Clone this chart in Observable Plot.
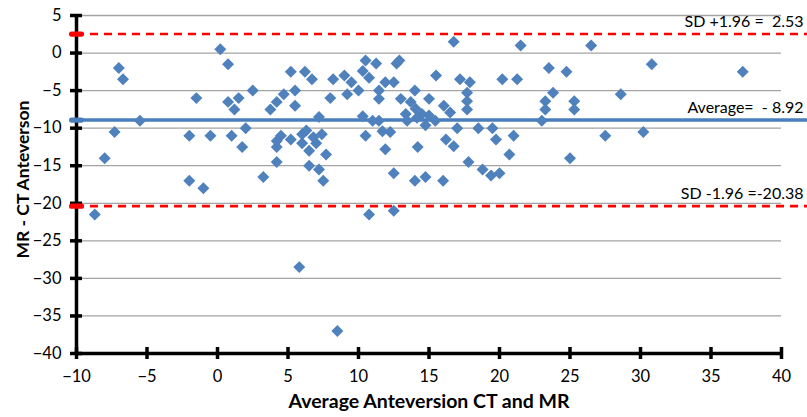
<!DOCTYPE html>
<html>
<head>
<meta charset="utf-8">
<script src="https://cdn.jsdelivr.net/npm/d3@7"></script>
<script src="https://cdn.jsdelivr.net/npm/@observablehq/plot@0.6"></script>
<style>
  html, body { margin: 0; padding: 0; background: #fff; }
  #chart { width: 807px; height: 417px; }
</style>
</head>
<body>
<div id="chart"></div>
<script>
// Average of CT and MR anteversion (x) and MR - CT difference (y)
const avgAnteversion = [
  -8.7, -8.0, -7.3, -7.0, -6.7, -5.5, -2.0, -1.5, -2.0, -1.0, -0.5,
  0.2, 0.75, 0.75, 1.2, 1.5, 1.0, 2.0, 1.75, 2.5, 3.25, 3.75, 4.2, 4.7, 4.2, 4.2, 4.5, 4.2,
  5.2, 5.5, 5.5, 5.2, 6.0, 6.3, 6.0, 6.5, 7.0, 6.8, 7.4, 7.7, 6.5, 7.2, 7.5,
  6.2, 6.7, 7.2, 8.0, 8.2, 9.0, 9.5, 9.2, 10.0, 5.8, 8.5,
  10.3, 10.5, 10.75, 11.25, 11.45, 11.45, 11.9, 12.5, 12.7, 12.9, 10.3, 11.0, 11.45,
  10.5, 11.7, 12.25, 11.9, 12.5, 10.75, 12.5, 13.0, 13.7, 14.0, 14.05, 13.35, 13.45,
  14.15, 14.5, 14.75, 15.0, 15.45, 14.2, 14.0, 14.75, 15.5,
  16.05, 16.5, 16.75, 17.2, 17.9, 17.7, 17.7, 17.7, 17.0, 16.2, 16.75, 16.0, 17.8,
  18.5, 18.8, 19.4, 20.0, 19.5, 19.75, 20.2,
  21.25, 21.5, 21.0, 20.7, 23.5, 24.75, 23.8, 23.25, 23.25, 25.3, 25.3, 23.0, 25.0,
  26.5, 27.5, 28.6, 30.2, 30.8, 37.25, 15.0
];
const diffMRminusCT = [
  -21.5, -14.0, -10.5, -2.0, -3.5, -9.0, -11.0, -6.0, -17.0, -18.0, -11.0,
  0.5, -1.5, -6.5, -7.5, -6.0, -11.0, -10.0, -12.5, -5.0, -16.5, -7.5, -6.5, -5.5, -14.5, -12.5, -11.0, -11.7,
  -2.5, -5.0, -7.0, -11.5, -10.8, -10.3, -12.0, -13.0, -12.0, -11.2, -10.8, -13.5, -15.0, -15.5, -17.0,
  -2.5, -3.5, -8.5, -6.0, -3.5, -3.0, -3.9, -5.5, -5.0, -28.5, -37.0,
  -2.4, -1.0, -3.3, -1.4, -5.0, -6.1, -3.9, -3.9, -1.4, -1.0, -8.4, -9.0, -9.0,
  -11.0, -10.4, -10.5, -12.8, -16.0, -21.5, -21.0, -6.1, -6.5, -5.0, -7.4, -8.1, -9.0,
  -8.6, -8.1, -9.6, -6.1, -9.0, -12.5, -17.0, -16.5, -3.0,
  -7.0, -7.9, 1.5, -3.5, -3.9, -5.3, -6.4, -7.5, -10.0, -11.5, -12.4, -17.0, -14.5,
  -10.0, -15.5, -16.3, -16.0, -10.0, -11.5, -3.5,
  -3.5, 1.0, -11.0, -13.5, -2.0, -2.5, -5.3, -6.4, -7.5, -6.4, -7.5, -9.0, -14.0,
  1.0, -11.0, -5.5, -10.5, -1.5, -2.5, -8.3
];
const meanDiff = -8.92;
const upperLimit = 2.53;
const lowerLimit = -20.38;
const xTicks = [-10, -5, 0, 5, 10, 15, 20, 25, 30, 35, 40];
const yTicks = [5, 0, -5, -10, -15, -20, -25, -30, -35, -40];
const refLabels = ["SD +1.96 =  2.53", "Average=  - 8.92", "SD -1.96 =-20.38"];
const xTitle = "Average Anteversion CT and MR";
const yTitle = "MR - CT Anteverson";

const points = avgAnteversion.map((x, i) => ({x, y: diffMRminusCT[i]}));
const limits = [upperLimit, lowerLimit];
const refs = [upperLimit, meanDiff, lowerLimit].map((y, i) => ({y, label: refLabels[i]}));

const pill = {
  draw(ctx, size) {
    const w = 7.5, h = 2.6;
    ctx.moveTo(-w + h, -h);
    ctx.lineTo(w - h, -h);
    ctx.arc(w - h, 0, h, -Math.PI / 2, Math.PI / 2);
    ctx.lineTo(-w + h, h);
    ctx.arc(-w + h, 0, h, Math.PI / 2, 3 * Math.PI / 2);
    ctx.closePath();
  }
};

const chart = Plot.plot({
  width: 807,
  height: 417,
  marginLeft: 76,
  marginRight: 26,
  marginTop: 15,
  marginBottom: 64,
  style: {fontFamily: "Lato, 'Open Sans', sans-serif", fontSize: "16px", background: "#fff", color: "#000"},
  x: {domain: [-10, 40]},
  y: {domain: [-40, 5]},
  marks: [
    Plot.gridY(yTicks, {stroke: "#a3a3a3", strokeOpacity: 1, strokeWidth: 1.3}),
    Plot.ruleY(limits, {stroke: "#ff0000", strokeWidth: 2.6, strokeDasharray: "8,6", insetRight: -26}),
    Plot.ruleY([meanDiff], {stroke: "#4a7ebb", strokeWidth: 3.5, insetRight: -26}),
    Plot.dot(points, {x: "x", y: "y", symbol: "diamond2", r: 5.4, fill: "#4f81bd", stroke: "none"}),
    Plot.ruleX([-10], {stroke: "#000", strokeWidth: 3.5}),
    Plot.ruleY([-40], {stroke: "#000", strokeWidth: 3.5}),
    Plot.axisY({ticks: yTicks, tickSize: 12, insetLeft: 6, tickPadding: 9, strokeWidth: 3.5, fontSize: 16.5, label: null}),
    Plot.axisX({ticks: xTicks, tickSize: 12, insetBottom: 6, tickPadding: 11, strokeWidth: 3.5, fontSize: 16.5, label: null}),
    Plot.dot(limits, {x: () => -10, y: d => d, symbol: pill, r: 3, fill: "#ff0000", stroke: "none"}),
    Plot.dot([meanDiff], {x: () => -10, y: d => d, symbol: pill, r: 3, fill: "#4a7ebb", stroke: "none"}),
    Plot.text(refs, {y: "y", text: "label", frameAnchor: "right", textAnchor: "end", dx: 22, dy: -12, fontSize: 16, fill: "#000"}),
    Plot.text([xTitle], {text: d => d, frameAnchor: "bottom", textAnchor: "middle", dy: 54, fontWeight: "bold", fontSize: 19.5, fill: "#000"}),
    Plot.text([yTitle], {text: d => d, frameAnchor: "left", textAnchor: "middle", rotate: -90, dx: -53, dy: -5, fontWeight: "bold", fontSize: 17.5, fill: "#000"})
  ]
});
document.getElementById("chart").appendChild(chart);
</script>
</body>
</html>
